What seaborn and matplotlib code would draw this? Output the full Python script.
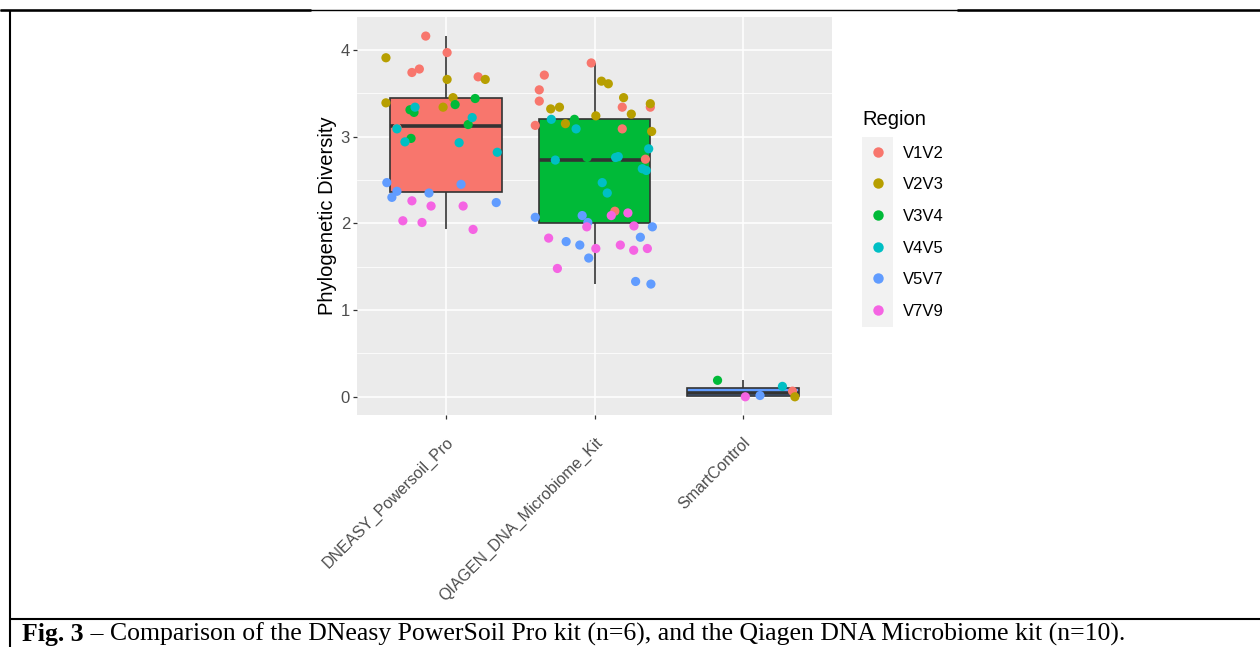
import numpy as np
import pandas as pd
import matplotlib
matplotlib.use("Agg")
import matplotlib.pyplot as plt
import seaborn as sns
from matplotlib.lines import Line2D
from matplotlib.patches import Rectangle

# ---------------- data ----------------
kits = ["DNEASY_Powersoil_Pro", "QIAGEN_DNA_Microbiome_Kit", "SmartControl"]
regions = ["V1V2", "V2V3", "V3V4", "V4V5", "V5V7", "V7V9"]
region_colors = ["#F8766D", "#B79F00", "#00BA38", "#00BFC4", "#619CFF", "#F564E3"]
kit_colors = ["#F8766D", "#00BA38", "#619CFF"]

# Phylogenetic diversity per region, and horizontal jitter offsets
dneasy_pd = {
    "V1V2": [3.10, 4.16, 3.97, 3.74, 3.78, 3.69],
    "V2V3": [3.91, 3.66, 3.66, 3.39, 3.45, 3.34],
    "V3V4": [3.44, 3.37, 3.31, 3.28, 3.14, 2.98],
    "V4V5": [3.34, 3.22, 3.09, 2.94, 2.93, 2.82],
    "V5V7": [2.47, 2.37, 2.30, 2.35, 2.45, 2.24],
    "V7V9": [2.26, 2.20, 2.20, 2.03, 2.01, 1.93],
}
dneasy_jit = {
    "V1V2": [-0.33, -0.137, 0.007, -0.23, -0.18, 0.216],
    "V2V3": [-0.405, 0.007, 0.264, -0.405, 0.047, -0.02],
    "V3V4": [0.196, 0.061, -0.243, -0.216, 0.149, -0.236],
    "V4V5": [-0.209, 0.176, -0.331, -0.277, 0.088, 0.345],
    "V5V7": [-0.399, -0.331, -0.365, -0.115, 0.101, 0.338],
    "V7V9": [-0.23, -0.101, 0.115, -0.291, -0.162, 0.182],
}
qiagen_pd = {
    "V1V2": [3.85, 3.71, 3.54, 3.41, 3.34, 3.34, 3.13, 3.09, 2.74, 2.14],
    "V2V3": [3.64, 3.61, 3.45, 3.38, 3.32, 3.34, 3.26, 3.24, 3.15, 3.06],
    "V3V4": [3.20, 3.05, 2.95, 2.85, 2.76, 2.74, 2.60, 2.45, 2.30, 2.15],
    "V4V5": [3.20, 3.09, 2.86, 2.73, 2.76, 2.77, 2.63, 2.61, 2.47, 2.35],
    "V5V7": [2.07, 2.09, 2.01, 1.96, 1.79, 1.75, 1.84, 1.60, 1.33, 1.30],
    "V7V9": [2.09, 2.12, 1.96, 1.97, 1.83, 1.71, 1.75, 1.69, 1.71, 1.48],
}
qiagen_jit = {
    "V1V2": [-0.022, -0.338, -0.372, -0.372, 0.187, 0.376, -0.399, 0.187, 0.343, 0.137],
    "V2V3": [0.047, 0.093, 0.196, 0.376, -0.295, -0.236, 0.248, 0.009, -0.196, 0.385],
    "V3V4": [-0.135, 0.10, -0.20, 0.25, -0.05, 0.15, -0.28, 0.05, 0.20, -0.10],
    "V4V5": [-0.291, -0.124, 0.365, -0.264, 0.142, 0.16, 0.322, 0.349, 0.052, 0.086],
    "V5V7": [-0.399, -0.083, -0.045, 0.39, -0.191, -0.099, 0.309, -0.039, 0.277, 0.38],
    "V7V9": [0.113, 0.225, -0.052, 0.266, -0.309, 0.009, 0.174, 0.264, 0.356, -0.25],
}
smart_pd = {"V1V2": [0.065], "V2V3": [0.00], "V3V4": [0.19],
            "V4V5": [0.12], "V5V7": [0.015], "V7V9": [0.00]}
smart_jit = {"V1V2": [0.334], "V2V3": [0.35], "V3V4": [-0.171],
             "V4V5": [0.266], "V5V7": [0.115], "V7V9": [0.016]}

rows = []
for ki, (vals, jits) in enumerate([(dneasy_pd, dneasy_jit), (qiagen_pd, qiagen_jit), (smart_pd, smart_jit)]):
    for reg in regions:
        for v, j in zip(vals[reg], jits[reg]):
            rows.append({"kit": kits[ki], "region": reg, "pd": v, "xpos": ki + j})
df = pd.DataFrame(rows)

# ---------------- figure ----------------
plt.rcParams["font.family"] = ["Liberation Sans", "DejaVu Sans"]
W, H = 1260, 647
fig = plt.figure(figsize=(W / 100, H / 100), dpi=100)
fig.patch.set_facecolor("white")

def fx(x):
    return x / W

def fy(y):
    return 1 - y / H

ax = fig.add_axes([fx(357), fy(415), (832 - 357) / W, (415 - 17) / H])
ax.set_facecolor("#EBEBEB")
ax.set_axisbelow(True)

sns.boxplot(data=df, x="kit", y="pd", hue="kit", order=kits, hue_order=kits,
            palette=kit_colors, width=0.75, linecolor="#333333", linewidth=1.2,
            showcaps=False, fliersize=0, saturation=1,
            medianprops=dict(linewidth=2.6, color="#333333"),
            legend=False, ax=ax)

sns.scatterplot(data=df, x="xpos", y="pd", hue="region", hue_order=regions,
                palette=region_colors, s=44, linewidth=0, alpha=1,
                legend=False, ax=ax, zorder=4)

ax.set_xlim(-0.6, 2.6)
ax.set_ylim(-0.21, 4.38)
ax.set_xticks(range(len(kits)))
ax.set_xticklabels(kits)
ax.set_yticks([0, 1, 2, 3, 4])
ax.set_yticks([0.5, 1.5, 2.5, 3.5], minor=True)
ax.grid(which="major", color="white", linewidth=1.1)
ax.grid(which="minor", axis="y", color="white", linewidth=0.55)
for s in ax.spines.values():
    s.set_visible(False)
ax.tick_params(axis="both", which="major", length=3, width=0.9, color="#333333",
               labelcolor="#4D4D4D", labelsize=12, pad=2)
ax.tick_params(axis="x", which="major", pad=11, labelsize=11.5)
ax.tick_params(axis="y", which="minor", length=0)
for lbl in ax.get_xticklabels():
    lbl.set_rotation(45)
    lbl.set_ha("right")
    lbl.set_va("top")
    lbl.set_rotation_mode("anchor")
ax.set_xlabel("")
ax.set_ylabel("Phylogenetic Diversity", fontsize=14.5, color="black", labelpad=3)

# legend
fig.patches.append(Rectangle((fx(862), fy(327)), 31 / W, 190 / H,
                             transform=fig.transFigure, facecolor="#F2F2F2",
                             edgecolor="none", zorder=0))
handles = [Line2D([0], [0], marker="o", ls="", markersize=7.5,
                  markerfacecolor=c, markeredgewidth=0) for c in region_colors]
leg = fig.legend(handles, regions, title="Region", loc="upper left",
                 bbox_to_anchor=(fx(847), fy(95)), frameon=False,
                 fontsize=12, title_fontsize=14.5, labelspacing=1.0,
                 handlelength=1.9, handletextpad=0.55, borderpad=0.4,
                 alignment="left")

# page borders
line_kw = dict(transform=fig.transFigure, color="black", solid_capstyle="butt")
fig.add_artist(Line2D([0, 1], [fy(10), fy(10)], lw=1.0, **line_kw))
fig.add_artist(Line2D([0, fx(311)], [fy(10), fy(10)], lw=1.8, **line_kw))
fig.add_artist(Line2D([fx(957), 1], [fy(10), fy(10)], lw=1.8, **line_kw))
fig.add_artist(Line2D([fx(10), fx(10)], [fy(10), 0], lw=1.5, **line_kw))
fig.add_artist(Line2D([fx(10), 1], [fy(619), fy(619)], lw=1.5, **line_kw))

# caption
cap_size = 18.5
t1 = fig.text(fx(22), fy(641), "Fig. 3", fontsize=cap_size, fontweight="bold",
              family="Liberation Serif", va="baseline", ha="left")
fig.canvas.draw()
bb = t1.get_window_extent(renderer=fig.canvas.get_renderer())
fig.text(bb.x1 / W, fy(641),
         " \u2013 Comparison of the DNeasy PowerSoil Pro kit (n=6), and the Qiagen DNA Microbiome kit (n=10).",
         fontsize=cap_size, family="Liberation Serif", va="baseline", ha="left")

fig.savefig("out.png", dpi=100)
